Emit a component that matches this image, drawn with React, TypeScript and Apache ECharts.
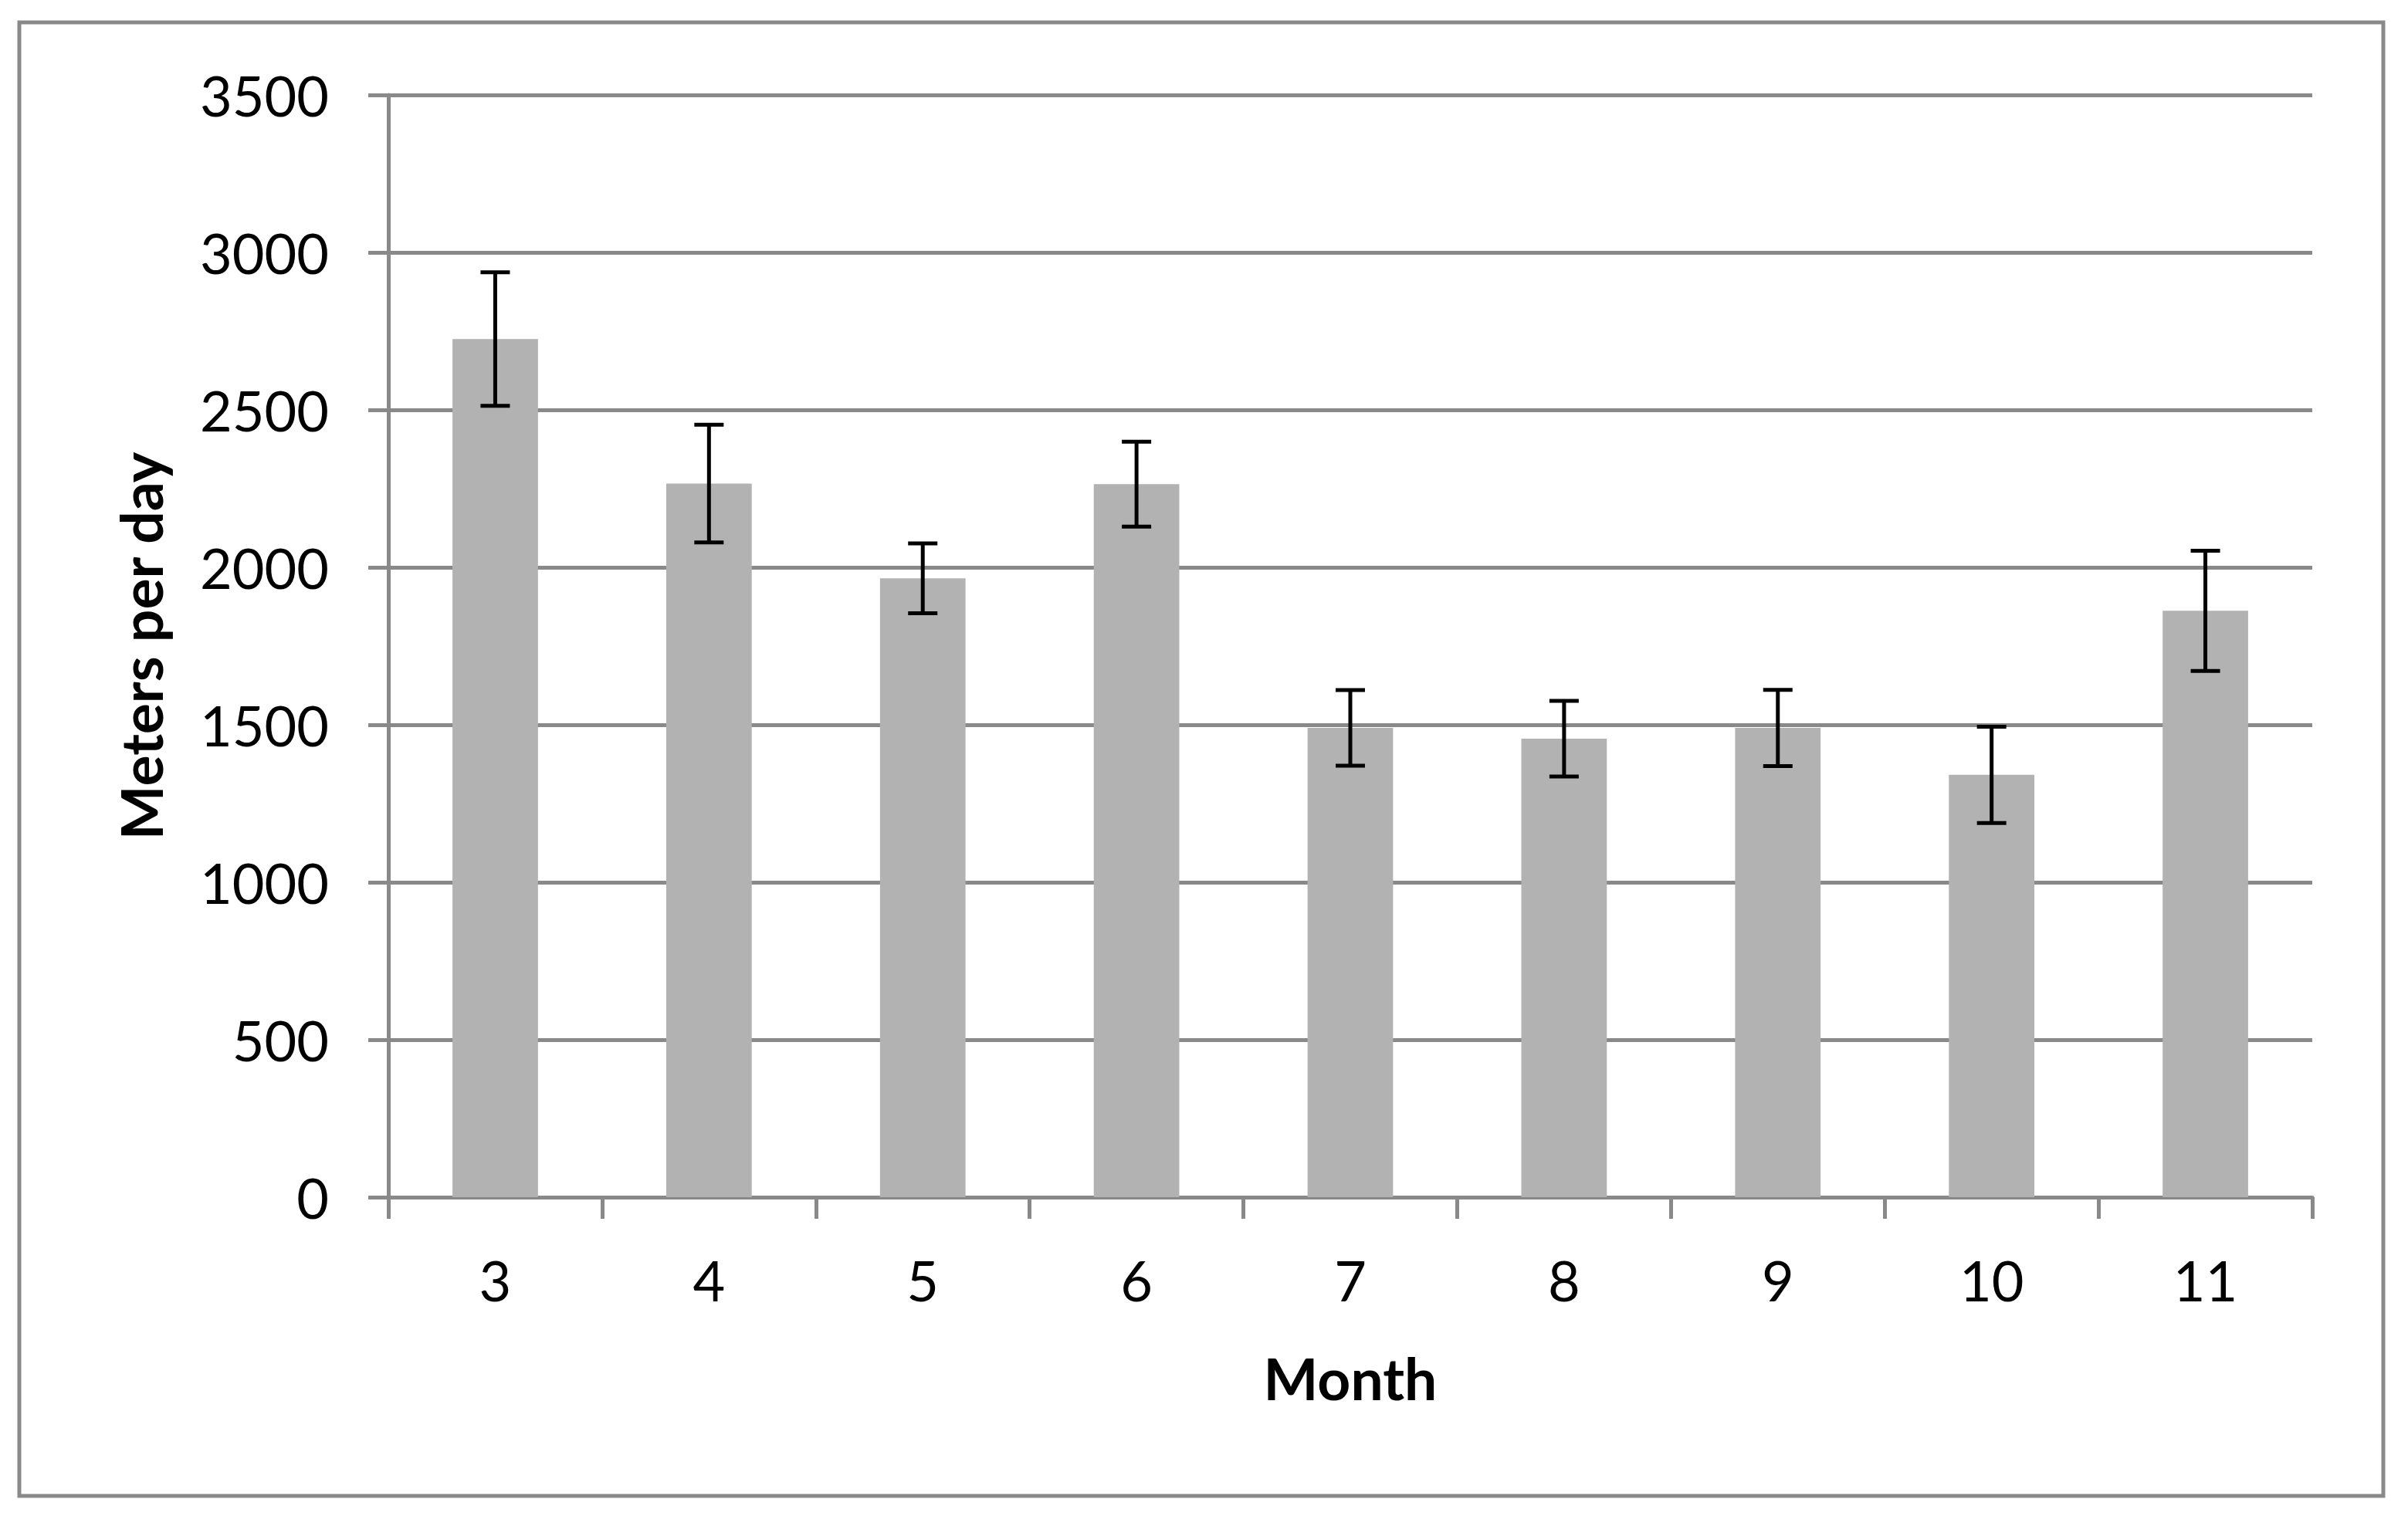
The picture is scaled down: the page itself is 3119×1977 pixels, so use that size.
import React, { useEffect, useRef } from "react";
import * as echarts from "echarts";

const months = ["3", "4", "5", "6", "7", "8", "9", "10", "11"];
const meanMeters = [2725, 2266, 1965, 2264, 1490, 1456, 1490, 1341, 1862];
const errMeters = [212, 187, 111, 135, 120, 120, 121, 153, 191];
const yMin = 0;
const yMax = 3500;
const yStep = 500;

const GRAY = "#898989";
const FONT = "Lato";

export default function App() {
  const ref = useRef<HTMLDivElement>(null);

  useEffect(() => {
    if (!ref.current) return;
    const chart = echarts.init(ref.current, null, { renderer: "svg" });
    const errData = months.map((_, i) => [i, meanMeters[i] - errMeters[i], meanMeters[i] + errMeters[i]]);

    chart.setOption({
      animation: false,
      backgroundColor: "#ffffff",
      textStyle: { fontFamily: FONT },
      grid: { left: 503, right: 124, top: 123, bottom: 426, containLabel: false, outerBoundsMode: "none" },
      xAxis: {
        type: "category",
        data: months,
        boundaryGap: true,
        name: "Month",
        nameLocation: "middle",
        nameGap: 196,
        nameTextStyle: { fontFamily: FONT, fontSize: 75, fontWeight: "bold", color: "#000" },
        axisLine: { show: true, lineStyle: { color: GRAY, width: 5 } },
        axisTick: { show: true, alignWithLabel: false, interval: 0, length: 28, lineStyle: { color: GRAY, width: 5 } },
        axisLabel: { show: true, interval: 0, margin: 71, fontFamily: FONT, fontSize: 72, color: "#000" },
        splitLine: { show: false },
      },
      yAxis: {
        type: "value",
        min: yMin,
        max: yMax,
        interval: yStep,
        name: "Meters per day",
        nameLocation: "middle",
        nameGap: 284,
        nameTextStyle: { fontFamily: FONT, fontSize: 75, fontWeight: "bold", color: "#000" },
        axisLine: { show: true, lineStyle: { color: GRAY, width: 5 } },
        axisTick: { show: true, length: 26, lineStyle: { color: GRAY, width: 5 } },
        axisLabel: {
          show: true,
          margin: 77,
          fontFamily: FONT,
          fontSize: 72,
          color: "#000",
          formatter: (v: number) => String(v),
        },
        splitLine: { show: true, lineStyle: { color: GRAY, width: 5 } },
      },
      series: [
        {
          type: "bar",
          data: meanMeters,
          barWidth: "40%",
          itemStyle: { color: "#b2b2b2" },
          z: 2,
        },
        {
          type: "custom",
          data: errData,
          encode: { x: 0, y: [1, 2] },
          z: 5,
          renderItem: (_params: any, api: any) => {
            const idx = api.value(0);
            const lo = api.coord([idx, api.value(1)]);
            const hi = api.coord([idx, api.value(2)]);
            const half = 19;
            const style = { stroke: "#000", lineWidth: 5, fill: "none" };
            return {
              type: "group",
              children: [
                { type: "line", shape: { x1: hi[0], y1: hi[1], x2: lo[0], y2: lo[1] }, style },
                { type: "line", shape: { x1: hi[0] - half, y1: hi[1], x2: hi[0] + half, y2: hi[1] }, style },
                { type: "line", shape: { x1: lo[0] - half, y1: lo[1], x2: lo[0] + half, y2: lo[1] }, style },
              ],
            };
          },
        },
      ],
      graphic: [
        {
          type: "rect",
          silent: true,
          z: -10,
          shape: { x: 25, y: 29, width: 3062, height: 1909 },
          style: { fill: "none", stroke: GRAY, lineWidth: 5 },
        },
      ],
    });

    return () => chart.dispose();
  }, []);

  return (
    <div
      ref={ref}
      style={{ position: "fixed", left: 0, top: 0, width: 3119, height: 1977 }}
    />
  );
}
